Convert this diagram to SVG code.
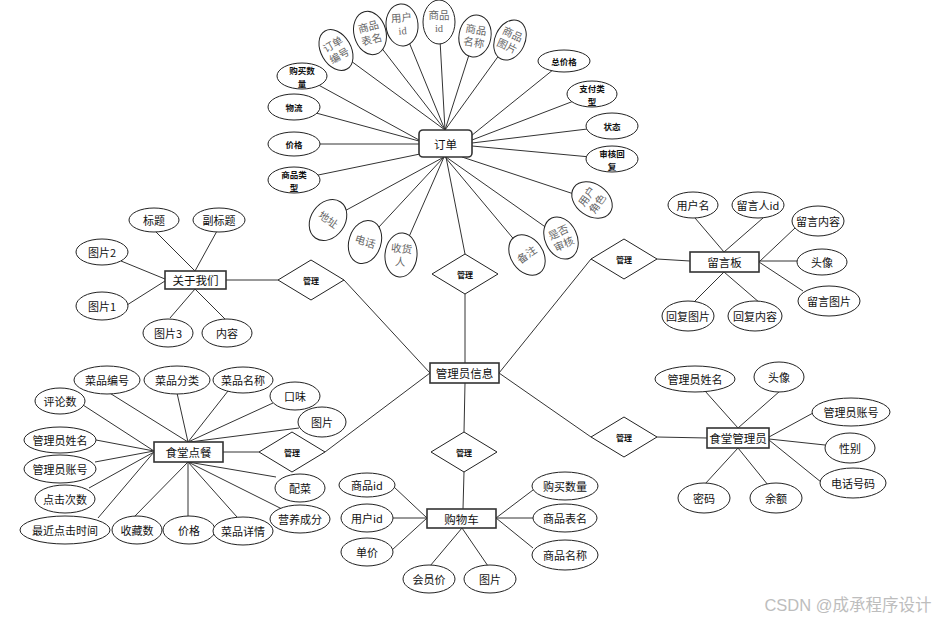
<svg xmlns="http://www.w3.org/2000/svg" width="939" height="620" viewBox="0 0 939 620">
<style>
text{font-family:"Noto Sans CJK SC","Liberation Sans",sans-serif;text-anchor:middle;dominant-baseline:central;fill:#111}
.a ellipse{fill:#fff;stroke:#222;stroke-width:1}
.a text{font-size:11px}
.s text{font-size:8.5px;font-weight:bold}
.r text{font-family:"Liberation Serif","Noto Sans CJK SC",serif;font-size:10.5px;fill:#666}
.e rect{fill:#fff;stroke:#333;stroke-width:1.6}
.e text{font-size:11.5px}
.d polygon{fill:#fff;stroke:#222;stroke-width:1}
.d text{font-size:8px;font-weight:bold}
#links line{stroke:#333;stroke-width:1}
</style>
<rect width="939" height="620" fill="#fff"/>
<g id="links">
<line x1="430" y1="373" x2="344" y2="280"/>
<line x1="278" y1="280" x2="226" y2="280"/>
<line x1="430" y1="373" x2="325" y2="452"/>
<line x1="259" y1="452" x2="223" y2="452"/>
<line x1="499" y1="373" x2="591" y2="259"/>
<line x1="657" y1="259" x2="690" y2="261"/>
<line x1="499" y1="373" x2="591" y2="437"/>
<line x1="657" y1="437" x2="707" y2="438"/>
<line x1="465" y1="363" x2="465" y2="294"/>
<line x1="465" y1="254" x2="446" y2="157"/>
<line x1="465" y1="383" x2="464" y2="432"/>
<line x1="464" y1="472" x2="463" y2="509"/>
<line x1="336" y1="50" x2="445" y2="130"/>
<line x1="370" y1="33" x2="445" y2="130"/>
<line x1="402" y1="25" x2="445" y2="130"/>
<line x1="439" y1="22" x2="445" y2="130"/>
<line x1="475" y1="36" x2="445" y2="130"/>
<line x1="510" y1="40" x2="445" y2="130"/>
<line x1="302" y1="76" x2="419" y2="140"/>
<line x1="294" y1="107" x2="419" y2="141"/>
<line x1="294" y1="144" x2="419" y2="144"/>
<line x1="294" y1="180" x2="420" y2="154"/>
<line x1="564" y1="61" x2="471" y2="136"/>
<line x1="592" y1="94" x2="472" y2="140"/>
<line x1="612" y1="126" x2="472" y2="143"/>
<line x1="612" y1="159" x2="472" y2="146"/>
<line x1="592" y1="200" x2="462" y2="157"/>
<line x1="561" y1="238" x2="446" y2="157"/>
<line x1="527" y1="255" x2="445" y2="157"/>
<line x1="401" y1="255" x2="444" y2="157"/>
<line x1="365" y1="242" x2="444" y2="157"/>
<line x1="328" y1="220" x2="444" y2="157"/>
<line x1="155" y1="231" x2="195" y2="271"/>
<line x1="217" y1="231" x2="195" y2="271"/>
<line x1="121" y1="261" x2="165" y2="279"/>
<line x1="127" y1="305" x2="165" y2="281"/>
<line x1="170" y1="318" x2="195" y2="289"/>
<line x1="225" y1="319" x2="195" y2="289"/>
<line x1="695" y1="218" x2="724" y2="252"/>
<line x1="763" y1="218" x2="724" y2="252"/>
<line x1="795" y1="228" x2="759" y2="262"/>
<line x1="797" y1="261" x2="759" y2="261"/>
<line x1="803" y1="291" x2="759" y2="262"/>
<line x1="693" y1="303" x2="724" y2="272"/>
<line x1="760" y1="303" x2="724" y2="272"/>
<line x1="108" y1="392" x2="188" y2="442"/>
<line x1="177" y1="393" x2="188" y2="442"/>
<line x1="228" y1="391" x2="188" y2="442"/>
<line x1="273" y1="403" x2="188" y2="442"/>
<line x1="299" y1="428" x2="190" y2="442"/>
<line x1="83" y1="405" x2="154" y2="451"/>
<line x1="96" y1="440" x2="154" y2="451"/>
<line x1="95" y1="462" x2="154" y2="451"/>
<line x1="89" y1="488" x2="154" y2="452"/>
<line x1="98" y1="518" x2="154" y2="452"/>
<line x1="134" y1="517" x2="188" y2="462"/>
<line x1="188" y1="516" x2="188" y2="462"/>
<line x1="237" y1="517" x2="188" y2="462"/>
<line x1="282" y1="509" x2="188" y2="462"/>
<line x1="276" y1="477" x2="188" y2="462"/>
<line x1="394" y1="487" x2="427" y2="518"/>
<line x1="393" y1="518" x2="427" y2="518"/>
<line x1="392" y1="550" x2="427" y2="518"/>
<line x1="430" y1="566" x2="462" y2="528"/>
<line x1="488" y1="566" x2="462" y2="528"/>
<line x1="533" y1="490" x2="496" y2="518"/>
<line x1="533" y1="518" x2="496" y2="518"/>
<line x1="533" y1="548" x2="496" y2="518"/>
<line x1="705" y1="391" x2="738" y2="428"/>
<line x1="780" y1="391" x2="738" y2="428"/>
<line x1="813" y1="413" x2="769" y2="437"/>
<line x1="825" y1="445" x2="769" y2="439"/>
<line x1="821" y1="482" x2="769" y2="440"/>
<line x1="705" y1="484" x2="738" y2="448"/>
<line x1="768" y1="485" x2="738" y2="448"/>
</g>

<!-- entities -->
<g id="dingdan" class="e"><rect x="419" y="130" width="53" height="27" rx="4"/><text x="445.5" y="144">订单</text></g>
<g id="guanliyuanxinxi" class="e"><rect x="430" y="363" width="69" height="20"/><text x="464.5" y="373">管理员信息</text></g>
<g id="guanyuwomen" class="e"><rect x="165" y="271" width="61" height="18"/><text x="195.5" y="280">关于我们</text></g>
<g id="liuyanban" class="e"><rect x="690" y="252" width="69" height="20"/><text x="724.5" y="262">留言板</text></g>
<g id="shitangdiancan" class="e"><rect x="154" y="442" width="69" height="20"/><text x="188.5" y="452">食堂点餐</text></g>
<g id="gouwuche" class="e"><rect x="427" y="509" width="69" height="19"/><text x="461.5" y="518.5">购物车</text></g>
<g id="shitangguanliyuan" class="e"><rect x="707" y="428" width="62" height="20"/><text x="738" y="438">食堂管理员</text></g>

<!-- relationships -->
<g id="rel-dingdan" class="d"><polygon points="465,254 498,274 465,294 432,274"/><text x="465" y="274">管理</text></g>
<g id="rel-guanyu" class="d"><polygon points="311,260 344,280 311,300 278,280"/><text x="311" y="280">管理</text></g>
<g id="rel-liuyan" class="d"><polygon points="624,239 657,259 624,279 591,259"/><text x="624" y="259">管理</text></g>
<g id="rel-diancan" class="d"><polygon points="292,432 325,452 292,472 259,452"/><text x="292" y="452">管理</text></g>
<g id="rel-shitanggly" class="d"><polygon points="624,417 657,437 624,457 591,437"/><text x="624" y="437">管理</text></g>
<g id="rel-gouwuche" class="d"><polygon points="464,432 497,452 464,472 431,452"/><text x="464" y="452">管理</text></g>

<!-- 订单 attributes (rotated) -->
<g id="dd-bianhao" class="a r" transform="translate(336,50) rotate(-30)"><ellipse rx="15" ry="22"/><text y="-6">订单</text><text y="7">编号</text></g>
<g id="dd-biaoming" class="a r" transform="translate(370,33) rotate(-15)"><ellipse rx="16" ry="22"/><text y="-6">商品</text><text y="7">表名</text></g>
<g id="dd-yonghuid" class="a r" transform="translate(402,25) rotate(-5)"><ellipse rx="16" ry="21"/><text y="-7">用户</text><text y="6">id</text></g>
<g id="dd-shangpinid" class="a r" transform="translate(439,22)"><ellipse rx="16" ry="22"/><text y="-7">商品</text><text y="6">id</text></g>
<g id="dd-mingcheng" class="a r" transform="translate(475,36) rotate(10)"><ellipse rx="16" ry="21"/><text y="-6">商品</text><text y="7">名称</text></g>
<g id="dd-tupian" class="a r" transform="translate(510,40) rotate(25)"><ellipse rx="15" ry="21"/><text y="-6">商品</text><text y="7">图片</text></g>
<g id="dd-dizhi" class="a r" transform="translate(328,220) rotate(35)"><ellipse rx="17" ry="22"/><text>地址</text></g>
<g id="dd-dianhua" class="a r" transform="translate(365,242) rotate(18)"><ellipse rx="16" ry="22"/><text>电话</text></g>
<g id="dd-shouhuoren" class="a r" transform="translate(401,255) rotate(5)"><ellipse rx="16" ry="22"/><text y="-6">收货</text><text y="7">人</text></g>
<g id="dd-beizhu" class="a r" transform="translate(527,255) rotate(-35)"><ellipse rx="16" ry="22"/><text>备注</text></g>
<g id="dd-shifoushenhe" class="a r" transform="translate(561,238) rotate(-25)"><ellipse rx="16" ry="22"/><text y="-6">是否</text><text y="7">审核</text></g>
<g id="dd-yonghujuese" class="a r" transform="translate(592,200) rotate(-55)"><ellipse rx="16" ry="22"/><text y="-6">用户</text><text y="7">角色</text></g>
<g id="dd-goumaishuliang" class="a s"><ellipse cx="302" cy="76" rx="25" ry="13"/><text x="302" y="69.5">购买数</text><text x="302" y="82.5">量</text></g>
<g id="dd-wuliu" class="a s"><ellipse cx="294" cy="107" rx="26" ry="13"/><text x="294" y="107">物流</text></g>
<g id="dd-jiage" class="a s"><ellipse cx="294" cy="144" rx="26" ry="12"/><text x="294" y="144">价格</text></g>
<g id="dd-leixing" class="a s"><ellipse cx="294" cy="180" rx="26" ry="13"/><text x="294" y="173.5">商品类</text><text x="294" y="186.5">型</text></g>
<g id="dd-zongjiage" class="a s"><ellipse cx="564" cy="61" rx="26" ry="11"/><text x="564" y="61">总价格</text></g>
<g id="dd-zhifu" class="a s"><ellipse cx="592" cy="94" rx="25" ry="13"/><text x="592" y="87.5">支付类</text><text x="592" y="100.5">型</text></g>
<g id="dd-zhuangtai" class="a s"><ellipse cx="612" cy="126" rx="26" ry="13"/><text x="612" y="126">状态</text></g>
<g id="dd-shenhehuifu" class="a s"><ellipse cx="612" cy="159" rx="26" ry="13"/><text x="612" y="152.5">审核回</text><text x="612" y="165.5">复</text></g>

<!-- 关于我们 attributes -->
<g id="gy-biaoti" class="a"><ellipse cx="154" cy="220" rx="25" ry="12"/><text x="154" y="220">标题</text></g>
<g id="gy-fubiaoti" class="a"><ellipse cx="219" cy="220" rx="26" ry="12"/><text x="219" y="220">副标题</text></g>
<g id="gy-tupian2" class="a"><ellipse cx="102" cy="252" rx="26" ry="13"/><text x="102" y="252">图片2</text></g>
<g id="gy-tupian1" class="a"><ellipse cx="102" cy="306" rx="26" ry="14"/><text x="102" y="306">图片1</text></g>
<g id="gy-tupian3" class="a"><ellipse cx="168" cy="333" rx="25" ry="14"/><text x="168" y="333">图片3</text></g>
<g id="gy-neirong" class="a"><ellipse cx="227" cy="333" rx="25" ry="14"/><text x="227" y="333">内容</text></g>

<!-- 留言板 attributes -->
<g id="ly-yonghuming" class="a"><ellipse cx="693" cy="205" rx="25" ry="13"/><text x="693" y="205">用户名</text></g>
<g id="ly-liuyanrenid" class="a"><ellipse cx="758" cy="205" rx="26" ry="13"/><text x="758" y="205">留言人id</text></g>
<g id="ly-liuyanneirong" class="a"><ellipse cx="818" cy="221" rx="26" ry="15"/><text x="818" y="221">留言内容</text></g>
<g id="ly-touxiang" class="a"><ellipse cx="822" cy="262" rx="25" ry="13"/><text x="822" y="262">头像</text></g>
<g id="ly-liuyantupian" class="a"><ellipse cx="829" cy="301" rx="31" ry="15"/><text x="829" y="301">留言图片</text></g>
<g id="ly-huifutupian" class="a"><ellipse cx="688" cy="316" rx="26" ry="15"/><text x="688" y="316">回复图片</text></g>
<g id="ly-huifuneirong" class="a"><ellipse cx="755" cy="316" rx="27" ry="15"/><text x="755" y="316">回复内容</text></g>

<!-- 食堂点餐 attributes -->
<g id="dc-bianhao" class="a"><ellipse cx="107" cy="380" rx="33" ry="14"/><text x="107" y="380">菜品编号</text></g>
<g id="dc-fenlei" class="a"><ellipse cx="177" cy="380" rx="33" ry="14"/><text x="177" y="380">菜品分类</text></g>
<g id="dc-mingcheng" class="a"><ellipse cx="243" cy="380" rx="30" ry="13"/><text x="243" y="380">菜品名称</text></g>
<g id="dc-kouwei" class="a"><ellipse cx="295" cy="396" rx="25" ry="14"/><text x="295" y="396">口味</text></g>
<g id="dc-tupian" class="a"><ellipse cx="322" cy="422" rx="24" ry="15"/><text x="322" y="422">图片</text></g>
<g id="dc-pinglunshu" class="a"><ellipse cx="60" cy="401" rx="25" ry="13"/><text x="60" y="401">评论数</text></g>
<g id="dc-glyxm" class="a"><ellipse cx="60" cy="440" rx="36" ry="13"/><text x="60" y="440">管理员姓名</text></g>
<g id="dc-glyzh" class="a"><ellipse cx="60" cy="469" rx="36" ry="14"/><text x="60" y="469">管理员账号</text></g>
<g id="dc-dianjicishu" class="a"><ellipse cx="65" cy="499" rx="30" ry="14"/><text x="65" y="499">点击次数</text></g>
<g id="dc-zuijin" class="a"><ellipse cx="65" cy="530" rx="45" ry="14"/><text x="65" y="530">最近点击时间</text></g>
<g id="dc-shoucang" class="a"><ellipse cx="137" cy="530" rx="25" ry="14"/><text x="137" y="530">收藏数</text></g>
<g id="dc-jiage" class="a"><ellipse cx="189" cy="530" rx="26" ry="14"/><text x="189" y="530">价格</text></g>
<g id="dc-xiangqing" class="a"><ellipse cx="243" cy="531" rx="30" ry="14"/><text x="243" y="531">菜品详情</text></g>
<g id="dc-yingyang" class="a"><ellipse cx="300" cy="519" rx="30" ry="14"/><text x="300" y="519">营养成分</text></g>
<g id="dc-peicai" class="a"><ellipse cx="300" cy="488" rx="25" ry="14"/><text x="300" y="488">配菜</text></g>

<!-- 购物车 attributes -->
<g id="gw-shangpinid" class="a"><ellipse cx="367" cy="485" rx="28" ry="12"/><text x="367" y="485">商品id</text></g>
<g id="gw-yonghuid" class="a"><ellipse cx="367" cy="518" rx="26" ry="14"/><text x="367" y="518">用户id</text></g>
<g id="gw-danjia" class="a"><ellipse cx="367" cy="552" rx="26" ry="14"/><text x="367" y="552">单价</text></g>
<g id="gw-huiyuanjia" class="a"><ellipse cx="429" cy="579" rx="26" ry="14"/><text x="429" y="579">会员价</text></g>
<g id="gw-tupian" class="a"><ellipse cx="490" cy="579" rx="26" ry="14"/><text x="490" y="579">图片</text></g>
<g id="gw-goumaishuliang" class="a"><ellipse cx="565" cy="486" rx="33" ry="14"/><text x="565" y="486">购买数量</text></g>
<g id="gw-biaoming" class="a"><ellipse cx="565" cy="518" rx="32" ry="14"/><text x="565" y="518">商品表名</text></g>
<g id="gw-mingcheng" class="a"><ellipse cx="565" cy="555" rx="33" ry="15"/><text x="565" y="555">商品名称</text></g>

<!-- 食堂管理员 attributes -->
<g id="st-xingming" class="a"><ellipse cx="695" cy="379" rx="40" ry="13"/><text x="695" y="379">管理员姓名</text></g>
<g id="st-touxiang" class="a"><ellipse cx="779" cy="377" rx="25" ry="15"/><text x="779" y="377">头像</text></g>
<g id="st-zhanghao" class="a"><ellipse cx="851" cy="412" rx="39" ry="14"/><text x="851" y="412">管理员账号</text></g>
<g id="st-xingbie" class="a"><ellipse cx="850" cy="448" rx="25" ry="15"/><text x="850" y="448">性别</text></g>
<g id="st-dianhua" class="a"><ellipse cx="853" cy="483" rx="33" ry="15"/><text x="853" y="483">电话号码</text></g>
<g id="st-mima" class="a"><ellipse cx="704" cy="498" rx="26" ry="15"/><text x="704" y="498">密码</text></g>
<g id="st-yue" class="a"><ellipse cx="776" cy="498" rx="26" ry="15"/><text x="776" y="498">余额</text></g>

<text x="848" y="605" style="font-family:'Liberation Sans','Noto Sans CJK SC',sans-serif;font-size:16.5px;fill:#bdbdbd">CSDN @成承程序设计</text>
</svg>
